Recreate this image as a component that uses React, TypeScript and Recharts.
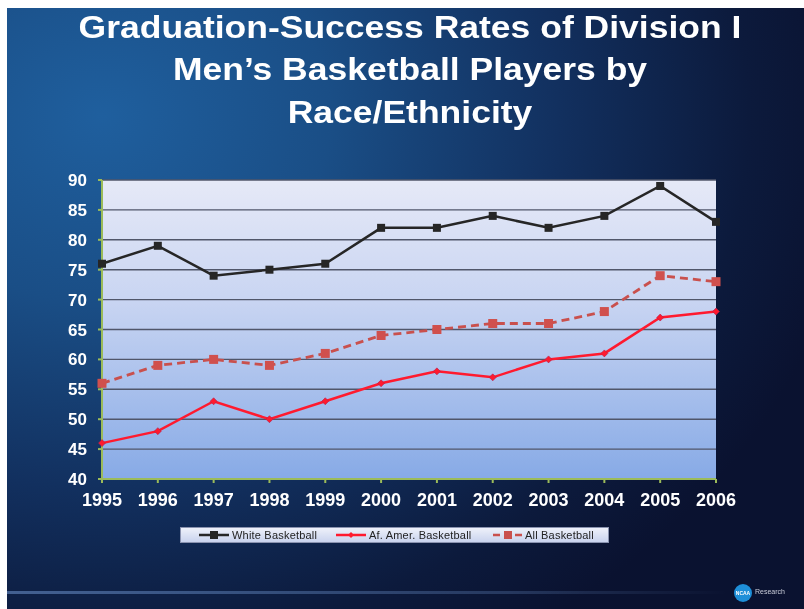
import React from 'react';
import { LineChart, Line, XAxis, YAxis, CartesianGrid } from 'recharts';

const years = ['1995', '1996', '1997', '1998', '1999', '2000', '2001', '2002', '2003', '2004', '2005', '2006'];
const whiteBasketball = [76, 79, 74, 75, 76, 82, 82, 84, 82, 84, 89, 83];
const afAmerBasketball = [46, 48, 53, 50, 53, 56, 58, 57, 60, 61, 67, 68];
const allBasketball = [56, 59, 60, 59, 61, 64, 65, 66, 66, 68, 74, 73];
const yTicks = [40, 45, 50, 55, 60, 65, 70, 75, 80, 85, 90];

const titleLines = ['Graduation-Success Rates of Division I', 'Men\u2019s Basketball Players by', 'Race/Ethnicity'];

const data = years.map((y, i) => ({
  year: y,
  white: whiteBasketball[i],
  afAmer: afAmerBasketball[i],
  all: allBasketball[i],
}));

const FONT = '"Liberation Sans", Arial, sans-serif';

const SquareDot = (size: number, color: string) => (props: any) => {
  const { cx, cy, index } = props;
  if (cx == null || cy == null) return null;
  return <rect key={index} x={cx - size / 2} y={cy - size / 2} width={size} height={size} fill={color} />;
};

const DiamondDot = (size: number, color: string) => (props: any) => {
  const { cx, cy, index } = props;
  if (cx == null || cy == null) return null;
  const s = size / 2;
  return (
    <path
      key={index}
      d={`M${cx},${cy - s}L${cx + s},${cy}L${cx},${cy + s}L${cx - s},${cy}Z`}
      fill={color}
      stroke="#b02050"
      strokeWidth={0.6}
    />
  );
};

// legend entries, offsets are relative to the legend box
const legendItems = [
  { label: 'White Basketball', color: '#262626', marker: 'square', dash: false, icon: 18, text: 52 },
  { label: 'Af. Amer. Basketball', color: '#ff1a2e', marker: 'diamond', dash: false, icon: 155, text: 189 },
  { label: 'All Basketball', color: '#c9504d', marker: 'square', dash: true, icon: 312, text: 345 },
];

const LegendBox = () => (
  <div
    style={{
      position: 'absolute',
      left: 173,
      top: 519,
      width: 429,
      height: 16,
      boxSizing: 'border-box',
      border: '1px solid #8a93b0',
      background: 'linear-gradient(#eef1fa, #c9d3ee)',
      fontFamily: FONT,
      fontSize: 11,
      color: '#222',
    }}
  >
    {legendItems.map((it) => (
      <React.Fragment key={it.label}>
        <svg width={32} height={10} style={{ position: 'absolute', left: it.icon - 1, top: 2 }}>
          <line
            x1={1}
            x2={31}
            y1={5}
            y2={5}
            stroke={it.color}
            strokeWidth={2.5}
            strokeDasharray={it.dash ? '7 4' : undefined}
          />
          {it.marker === 'square' ? (
            <rect x={12} y={1} width={8} height={8} fill={it.color} />
          ) : (
            <path d="M16,2L19,5L16,8L13,5Z" fill={it.color} />
          )}
        </svg>
        <span style={{ position: 'absolute', left: it.text - 1, top: 0, lineHeight: '14px', letterSpacing: 0.2 }}>
          {it.label}
        </span>
      </React.Fragment>
    ))}
  </div>
);

export default function App() {
  return (
    <div
      style={{
        position: 'fixed',
        left: 7,
        top: 8,
        width: 797,
        height: 601,
        overflow: 'hidden',
        background:
          'radial-gradient(ellipse 760px 620px at 12% 18%, #1f5f9e 0%, #1a4e86 30%, #12305f 60%, #0c1a3c 85%, #0a1230 100%)',
      }}
    >
      <svg width={0} height={0} style={{ position: 'absolute' }}>
        <defs>
          <linearGradient id="plotGrad" x1="0" y1="0" x2="0" y2="1">
            <stop offset="0%" stopColor="#e6e9f7" />
            <stop offset="40%" stopColor="#c9d5f2" />
            <stop offset="100%" stopColor="#87aae6" />
          </linearGradient>
        </defs>
      </svg>
      <div
        style={{
          position: 'absolute',
          left: 0,
          top: -1.5,
          width: 806,
          textAlign: 'center',
          fontFamily: FONT,
          fontWeight: 'bold',
          fontSize: 31,
          lineHeight: '42.5px',
          color: '#fff',
          transform: 'scaleX(1.145)',
          transformOrigin: '403px 0',
        }}
      >
        {titleLines.map((t) => (
          <div key={t}>{t}</div>
        ))}
      </div>
      <LineChart
        width={797}
        height={601}
        data={data}
        margin={{ top: 172, right: 88, bottom: 100, left: 40 }}
        style={{ position: 'absolute', left: 0, top: 0 }}
      >
        <CartesianGrid
          vertical={false}
          stroke="#50566a"
          strokeWidth={1.4}
          fill="url(#plotGrad)"
          fillOpacity={1}
        />
        <XAxis
          dataKey="year"
          axisLine={{ stroke: '#9bbb59', strokeWidth: 2 }}
          tickLine={{ stroke: '#9bbb59', strokeWidth: 2 }}
          tickSize={4}
          tickMargin={10}
          interval={0}
          tick={{ fill: '#fff', fontFamily: FONT, fontWeight: 'bold', fontSize: 18 }}
        />
        <YAxis
          domain={[40, 90]}
          ticks={yTicks}
          width={55}
          axisLine={{ stroke: '#9bbb59', strokeWidth: 2 }}
          tickLine={{ stroke: '#9bbb59', strokeWidth: 2 }}
          tickSize={4}
          tickMargin={11}
          interval={0}
          tick={{ fill: '#fff', fontFamily: FONT, fontWeight: 'bold', fontSize: 17 }}
        />
        <Line
          dataKey="white"
          name="White Basketball"
          stroke="#262626"
          strokeWidth={2.5}
          dot={SquareDot(8, '#262626')}
          activeDot={false}
          isAnimationActive={false}
        />
        <Line
          dataKey="afAmer"
          name="Af. Amer. Basketball"
          stroke="#ff1a2e"
          strokeWidth={2.5}
          dot={DiamondDot(7, '#ff1a2e')}
          activeDot={false}
          isAnimationActive={false}
        />
        <Line
          dataKey="all"
          name="All Basketball"
          stroke="#c9504d"
          strokeWidth={2.8}
          strokeDasharray="8 5"
          dot={SquareDot(9, '#d0504d')}
          activeDot={false}
          isAnimationActive={false}
        />
      </LineChart>
      <LegendBox />
      <div
        style={{
          position: 'absolute',
          left: 0,
          top: 583,
          width: 720,
          height: 3,
          background: 'linear-gradient(90deg, rgba(120,160,220,0.5), rgba(120,160,220,0.25) 70%, rgba(120,160,220,0))',
        }}
      />
      <div
        style={{
          position: 'absolute',
          left: 727,
          top: 576,
          width: 18,
          height: 18,
          borderRadius: 9,
          background: '#1e8fd8',
          color: '#fff',
          fontFamily: FONT,
          fontSize: 5,
          fontWeight: 'bold',
          lineHeight: '18px',
          textAlign: 'center',
        }}
      >
        NCAA
      </div>
      <div
        style={{
          position: 'absolute',
          left: 748,
          top: 580,
          fontFamily: FONT,
          fontSize: 7,
          color: '#c8ccd8',
        }}
      >
        Research
      </div>
    </div>
  );
}
